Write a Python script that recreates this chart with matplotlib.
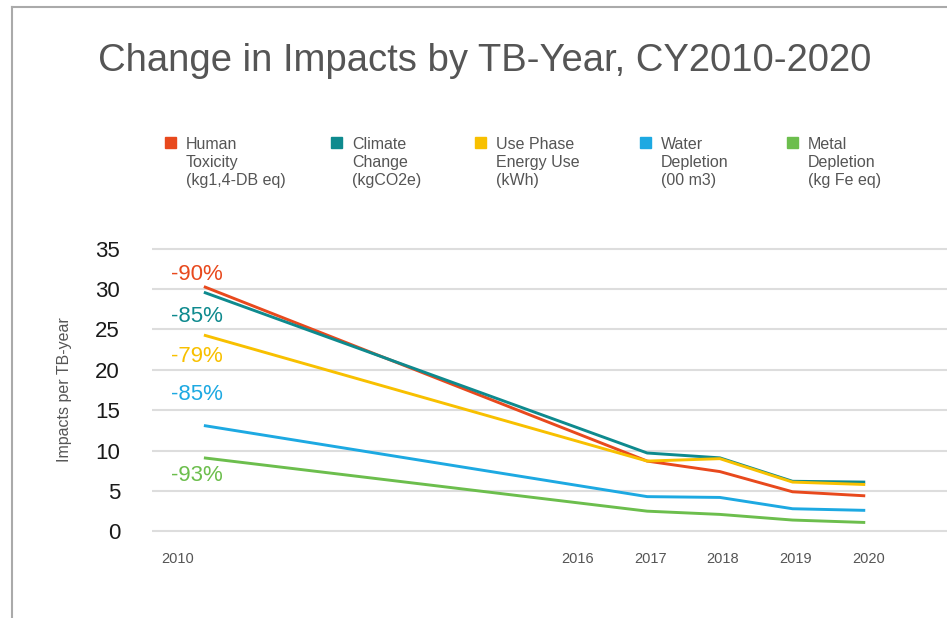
import matplotlib
matplotlib.use("Agg")
import numpy as np
import matplotlib.pyplot as plt
from matplotlib.patches import Rectangle
from matplotlib.lines import Line2D
from matplotlib.transforms import ScaledTranslation

plt.rcParams['font.family'] = ['Liberation Sans', 'DejaVu Sans']

years = [2010, 2017, 2018, 2019, 2020]
tick_years = [2010, 2016, 2017, 2018, 2019, 2020]

human_tox = [30.3, 8.7, 7.4, 4.9, 4.4]
climate = [29.6, 9.7, 9.1, 6.2, 6.1]
energy = [24.3, 8.7, 9.0, 6.1, 5.8]
water = [13.1, 4.3, 4.2, 2.8, 2.6]
metal = [9.1, 2.5, 2.1, 1.4, 1.1]

series = [human_tox, climate, energy, water, metal]
names = ['Human\nToxicity\n(kg1,4-DB eq)', 'Climate\nChange\n(kgCO2e)',
         'Use Phase\nEnergy Use\n(kWh)', 'Water\nDepletion\n(00 m3)',
         'Metal\nDepletion\n(kg Fe eq)']
pct = ['-90%', '-85%', '-79%', '-85%', '-93%']
colors = ['#E8491D', '#0E8A8E', '#F8C000', '#1DA9E2', '#6CBE4D']


# years before 2016 are squeezed together on the axis
def fwd(x):
    x = np.asarray(x, dtype=float)
    return np.where(x < 2016, 2016 - (2016 - x) * 0.85, x)


def inv(x):
    x = np.asarray(x, dtype=float)
    return np.where(x < 2016, 2016 - (2016 - x) / 0.85, x)


W, H = 947, 618
fig = plt.figure(figsize=(W / 100, H / 100), dpi=100)
ax = fig.add_axes([152 / W, 1 - 535 / H, 1 - 152 / W, (535 - 245) / H])
ax.set_xscale('function', functions=(fwd, inv))

for vals, c in zip(series, colors):
    ax.plot(years, vals, color=c, lw=2.1, solid_capstyle='butt', zorder=3)

# percent labels near the start of each line
label_y = [31.8, 26.6, 21.6, 16.9, 6.9]
for ly, p, c in zip(label_y, pct, colors):
    ax.annotate(p, xy=(2010, ly), xytext=(-5, 0), textcoords='offset points',
                ha='center', va='center', fontsize=16, color=c)

ax.set_xlim(2009.16, 2021.125)
ax.set_ylim(-0.45, 35.45)
ax.set_yticks(range(0, 36, 5))
ax.set_xticks(tick_years)
ax.set_xticklabels([str(y) for y in tick_years])
ax.xaxis.set_minor_locator(matplotlib.ticker.NullLocator())
ax.tick_params(axis='y', length=0, pad=23, labelsize=16, labelcolor='#1a1a1a')
ax.tick_params(axis='x', length=0, pad=12, labelsize=10.5, labelcolor='#555555')
# label positions in the original sit slightly right; 2010 sits left of the line start
for i, lab in enumerate(ax.get_xticklabels()):
    dx = -26 if i == 0 else 3
    lab.set_transform(lab.get_transform() + ScaledTranslation(dx / 100, 0, fig.dpi_scale_trans))

ax.grid(axis='y', color='#DDDDDD', lw=1.5)
ax.grid(axis='x', visible=False)
ax.set_axisbelow(True)
for s in ax.spines.values():
    s.set_visible(False)
ax.set_ylabel('Impacts per TB-year', fontsize=11.5, color='#555555', labelpad=17)

fig.text(485 / W, 1 - 61 / H, 'Change in Impacts by TB-Year, CY2010-2020',
         ha='center', va='center', fontsize=27.5, color='#555555')

# legend
leg_x = [165, 331, 475, 640, 787]
for lx, name, c in zip(leg_x, names, colors):
    fig.patches.append(Rectangle((lx / W, 1 - 148 / H), 11 / W, 11 / H,
                                 transform=fig.transFigure, color=c))
    fig.text((lx + 21) / W, 1 - 137 / H, name, ha='left', va='top',
             fontsize=11.5, color='#555555', linespacing=1.27)

# frame lines on the left and top
fig.add_artist(Line2D([12 / W, 12 / W], [0, 1 - 7 / H], color='#AAAAAA', lw=1.5))
fig.add_artist(Line2D([12 / W, 1], [1 - 7 / H, 1 - 7 / H], color='#AAAAAA', lw=1.5))

fig.savefig('out.png', dpi=100)
